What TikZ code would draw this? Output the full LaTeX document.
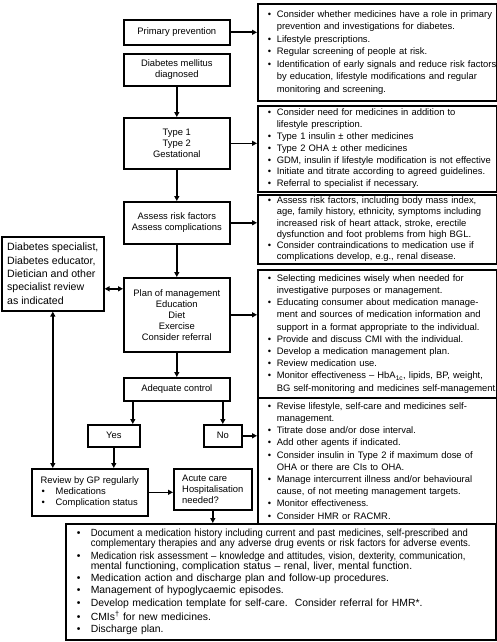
\documentclass[tikz,border=0pt]{standalone}
\usepackage{fontspec}
\setmainfont{Liberation Sans}
\usetikzlibrary{arrows.meta}
\newcommand\bi[1]{\mbox{\makebox[9pt][l]{\textbullet}#1}}
\newcommand\ci[1]{\mbox{\hspace*{9pt}#1}}
\newcommand\bb[1]{\mbox{\makebox[15pt][l]{\hspace{1pt}\textbullet}#1}}
\newcommand\cb[1]{\mbox{\hspace*{15pt}#1}}
\newcommand\bbs[1]{\mbox{\makebox[15pt][l]{\hspace{1pt}\textbullet}\scalebox{0.91}[1]{#1}}}
\newcommand\cbs[1]{\mbox{\hspace*{15pt}\scalebox{0.91}[1]{#1}}}
\tikzset{
  box/.style={draw, line width=1.6pt, anchor=north west, inner sep=0pt},
  cbox/.style={box, minimum width=106pt, align=center, font=\fontsize{9.4}{11}\selectfont},
  rbox/.style={box, minimum width=239pt, inner xsep=10pt, text width=219pt, align=left, font=\fontsize{9.4}{12.2}\selectfont},
  lbox/.style={box, align=left, font=\fontsize{9.4}{11}\selectfont},
  arr/.style={line width=1.6pt, -{Triangle[length=5pt,width=5pt]}},
  darr/.style={line width=1.6pt, {Triangle[length=5pt,width=5pt]}-{Triangle[length=5pt,width=5pt]}}
}
\begin{document}
\begin{tikzpicture}[x=1pt,y=-1pt]
\useasboundingbox (0,0) rectangle (497,642);
% central column
\node[cbox, minimum height=25pt] (pp) at (123,19) {Primary prevention};
\node[cbox, minimum height=32pt] (dm) at (123,53) {Diabetes mellitus\\diagnosed};
\node[cbox, minimum height=51pt] (type) at (123,117) {Type 1\\Type 2\\Gestational};
\node[cbox, minimum height=42pt] (assess) at (123,201) {Assess risk factors\\Assess complications};
\node[cbox, minimum height=74pt] (plan) at (123,277) {Plan of management\\Education\\Diet\\Exercise\\Consider referral};
\node[cbox, minimum height=23pt] (adeq) at (123,377) {Adequate control};
\node[cbox, minimum width=52pt, minimum height=22pt] (yes) at (87,424) {Yes};
\node[cbox, minimum width=38pt, minimum height=22pt] (no) at (203,424) {No};
% left boxes
\node[box, minimum width=102pt, minimum height=74pt, align=left, font=\fontsize{10.6}{13.3}\selectfont] (spec) at (1,236)
  {Diabetes specialist,\\Diabetes educator,\\Dietician and other\\specialist review\\as indicated};
\node[lbox, minimum width=116pt, minimum height=47pt] (gp) at (31,468)
  {Review by GP regularly\\\bb{Medications}\\\bb{Complication status}};
\node[lbox, minimum width=78pt, minimum height=41pt] (acute) at (173,468)
  {Acute care\\Hospitalisation\\needed?};
% right boxes
\node[rbox, minimum height=97pt, font=\fontsize{9.4}{12.5}\selectfont] (r1) at (257,3) {%
\bi{Consider whether medicines have a role in primary}\\
\ci{prevention and investigations for diabetes.}\\
\bi{Lifestyle prescriptions.}\\
\bi{Regular screening of people at risk.}\\
\bi{Identification of early signals and reduce risk factors}\\
\ci{by education, lifestyle modifications and regular}\\
\ci{monitoring and screening.}};
\node[rbox, minimum height=86pt, font=\fontsize{9.4}{11.8}\selectfont] (r2) at (257,105) {%
\bi{Consider need for medicines in addition to}\\
\ci{lifestyle prescription.}\\
\bi{Type 1 insulin ± other medicines}\\
\bi{Type 2 OHA ± other medicines}\\
\bi{GDM, insulin if lifestyle modification is not effective}\\
\bi{Initiate and titrate according to agreed guidelines.}\\
\bi{Referral to specialist if necessary.}};
\node[rbox, minimum height=69pt, font=\fontsize{9.4}{11.3}\selectfont] (r3) at (257,194) {%
\bi{Assess risk factors, including body mass index,}\\
\ci{age, family history, ethnicity, symptoms including}\\
\ci{increased risk of heart attack, stroke, erectile}\\
\ci{dysfunction and foot problems from high BGL.}\\
\bi{Consider contraindications to medication use if}\\
\ci{complications develop, e.g., renal disease.}};
\node[rbox, minimum height=128pt] (r4) at (257,269) {%
\bi{Selecting medicines wisely when needed for}\\
\ci{investigative purposes or management.}\\
\bi{Educating consumer about medication manage-}\\
\ci{ment and sources of medication information and}\\
\ci{support in a format appropriate to the individual.}\\
\bi{Provide and discuss CMI with the individual.}\\
\bi{Develop a medication management plan.}\\
\bi{Review medication use.}\\
\bi{Monitor effectiveness – HbA\textsubscript{1c}, lipids, BP, weight,}\\
\ci{BG self-monitoring and medicines self-management.}};
\node[rbox, minimum height=126pt] (r5) at (257,397) {%
\bi{Revise lifestyle, self-care and medicines self-}\\
\ci{management.}\\
\bi{Titrate dose and/or dose interval.}\\
\bi{Add other agents if indicated.}\\
\bi{Consider insulin in Type 2 if maximum dose of}\\
\ci{OHA or there are CIs to OHA.}\\
\bi{Manage intercurrent illness and/or behavioural}\\
\ci{cause, of not meeting management targets.}\\
\bi{Monitor effectiveness.}\\
\bi{Consider HMR or RACMR.}};
% bottom box
\node[box, minimum width=430pt, minimum height=116pt, inner xsep=10pt, text width=410pt, align=left, font=\fontsize{10.4}{10.3}\selectfont] (bot) at (65,523) {%
\bbs{Document a medication history including current and past medicines, self-prescribed and}\\
\cbs{complementary therapies and any adverse drug events or risk factors for adverse events.}\\[2pt]
\bbs{Medication risk assessment – knowledge and attitudes, vision, dexterity, communication,}\\
\cb{mental functioning, complication status – renal, liver, mental function.}\\[2pt]
\bb{Medication action and discharge plan and follow-up procedures.}\\[2pt]
\bb{Management of hypoglycaemic episodes.}\\[2pt]
\bb{Develop medication template for self-care.\ \ Consider referral for HMR*.}\\[2pt]
\bb{CMIs\textsuperscript{\textdagger} for new medicines.}\\[2pt]
\bb{Discharge plan.}};
% connectors
\draw[arr] (pp.east) -- (pp.east -| r1.west);
\draw[arr] (dm) -- (type);
\draw[arr] (type.east) -- (type.east -| r2.west);
\draw[arr] (type) -- (assess);
\draw[arr] (assess.east) -- (assess.east -| r3.west);
\draw[arr] (assess) -- (plan);
\draw[arr] (plan.east) -- (plan.east -| r4.west);
\draw[arr] (plan) -- (adeq);
\draw[darr] ([yshift=-15pt]spec.east) -- ([yshift=-15pt]spec.east -| plan.west);
\draw[arr] ([xshift=-44pt]adeq.south) -- ([xshift=-44pt]adeq.south |- yes.north);
\draw[arr] (no.north |- adeq.south) -- (no.north);
\draw[arr] (yes.south) -- (yes.south |- gp.north);
\draw[arr] (no.east) -- (no.east -| r5.west);
\draw[darr] (spec.south) -- (spec.south |- gp.north);
\draw[arr] (gp.east) -- (gp.east -| acute.west);
\draw[arr] (acute.south) -- (acute.south |- bot.north);
\end{tikzpicture}
\end{document}
